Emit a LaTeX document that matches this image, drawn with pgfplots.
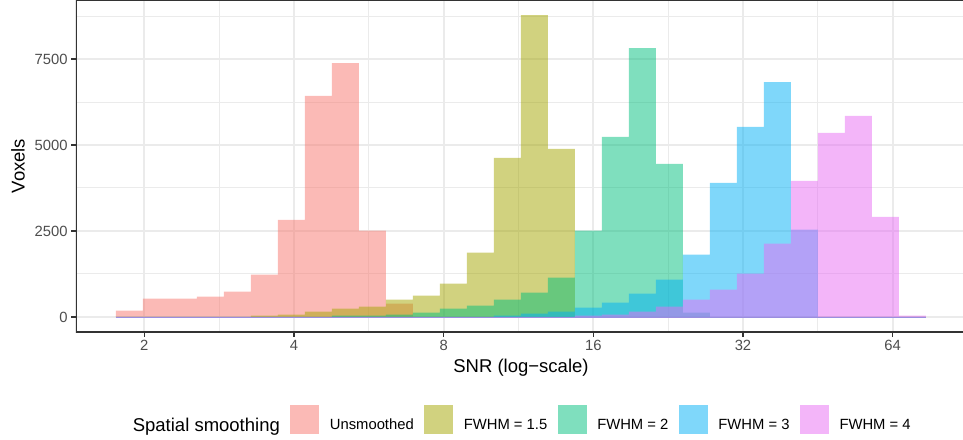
\documentclass[border=0pt]{standalone}
\usepackage{fontspec}
\setmainfont{Liberation Sans}
\usepackage{pgfplots}
\usepackage{pgfplotstable}
\pgfplotsset{compat=1.18}
\definecolor{pinkc}{HTML}{F8766D}
\definecolor{olivec}{HTML}{A3A500}
\definecolor{greenc}{HTML}{00BF7D}
\definecolor{bluec}{HTML}{00B0F6}
\definecolor{purplec}{HTML}{E76BF3}
\definecolor{grey92}{HTML}{EBEBEB}
\definecolor{grey20}{HTML}{333333}
\definecolor{grey30}{HTML}{4D4D4D}
\definecolor{basec}{HTML}{9A8EE0}
% edges on log2 scale; counts per bin (bin i from edge i to edge i+1)
\pgfplotstableread{
edge   pink  yel   grn   blu   pur
0.8109 183   0     0     0     0
0.9913 531   0     0     0     0
1.1717 531   0     0     0     0
1.3520 589   0     0     0     0
1.5324 735   0     0     0     0
1.7128 1228  38    0     0     0
1.8932 2825  67    0     0     0
2.0736 6426  154   0     0     0
2.2539 7384  241   38    0     0
2.4343 2506  299   38    0     0
2.6147 386   502   67    0     0
2.7951 0     618   125   0     0
2.9755 0     967   241   0     0
3.1558 0     1867  328   0     0
3.3362 0     4626  502   38    0
3.5166 0     8778  705   96    0
3.6970 0     4887  1141  154   0
3.8774 0     0     2506  270   38
4.0577 0     0     5235  415   67
4.2381 0     0     7819  676   154
4.4185 0     0     4451  1083  299
4.5989 0     0     125   1809  502
4.7793 0     0     0     3899  793
4.9596 0     0     0     5526  1257
5.1400 0     0     0     6832  2128
5.3204 0     0     0     2535  3958
5.5008 0     0     0     0     5351
5.6812 0     0     0     0     5845
5.8615 0     0     0     0     2912
6.0419 0     0     0     0     38
6.2223 0     0     0     0     0
}\histdata
\begin{document}
\begin{tikzpicture}
\pgfplotsset{
  mylegend/.style={legend image code/.code={\fill[##1,draw=none] (0pt,-9.2pt) rectangle (29pt,19.8pt);}},
}
\begin{axis}[
  name=ax,
  scale only axis,
  width=887pt, height=332pt,
  xmin=0.5437, xmax=6.470,
  ymin=-439, ymax=9217,
  xtick={1,2,3,4,5,6},
  xticklabels={2,4,8,16,32,64},
  minor xtick={1.5,2.5,3.5,4.5,5.5},
  ytick={0,2500,5000,7500},
  yticklabels={0,2500,5000,7500},
  minor ytick={1250,3750,6250,8750},
  grid=both,
  major grid style={draw=grey92, line width=1.8pt},
  minor grid style={draw=grey92, line width=1pt},
  tick pos=left,
  tick align=outside,
  major tick length=4.6pt,
  minor tick length=0pt,
  every tick/.style={draw=grey20, line width=1.4pt},
  axis line style={draw=none},
  ticklabel style={font=\fontsize{14.8}{17}\selectfont, text=grey30},
  xticklabel style={inner sep=0pt, yshift=-3.7pt},
  yticklabel style={inner sep=0pt, xshift=-3.7pt},
  xlabel={SNR (log−scale)},
  ylabel={Voxels},
  label style={font=\fontsize{18.5}{21}\selectfont, text=black},
  xlabel style={at={(axis description cs:0.5017,-0.1084)}, anchor=center, inner sep=0pt},
  ylabel style={at={(axis description cs:-0.0654,0.5)}, anchor=center, inner sep=0pt},
  legend style={
    at={(axis description cs:0.4966,-0.265)}, anchor=center,
    draw=none, fill=none, inner sep=0pt,
    legend columns=-1,
    nodes={inner sep=0pt, font=\fontsize{14.8}{17}\selectfont, text=black},
    /tikz/every odd column/.append style={column sep=10.5pt},
    /tikz/every even column/.append style={column sep=10.5pt},
  },
  legend cell align=left,
]
\addlegendimage{empty legend}
\addlegendentry[font=\fontsize{18.5}{21}\selectfont]{Spatial smoothing}
\addplot[ybar interval, fill=pinkc, fill opacity=0.5, draw=none, mylegend] table[x=edge,y=pink] {\histdata};
\addlegendentry{Unsmoothed}
\addplot[ybar interval, fill=olivec, fill opacity=0.5, draw=none, mylegend] table[x=edge,y=yel] {\histdata};
\addlegendentry{FWHM = 1.5}
\addplot[ybar interval, fill=greenc, fill opacity=0.5, draw=none, mylegend] table[x=edge,y=grn] {\histdata};
\addlegendentry{FWHM = 2}
\addplot[ybar interval, fill=bluec, fill opacity=0.5, draw=none, mylegend] table[x=edge,y=blu] {\histdata};
\addlegendentry{FWHM = 3}
\addplot[ybar interval, fill=purplec, fill opacity=0.5, draw=none, mylegend] table[x=edge,y=pur] {\histdata};
\addlegendentry{FWHM = 4}
\addplot[forget plot, draw=basec, line width=0.8pt] coordinates {(0.8109,0) (6.2223,0)};
\draw[grey20, line width=1.6pt] (rel axis cs:1,1) -- (rel axis cs:0,1) -- (rel axis cs:0,0) -- (rel axis cs:1,0);
\end{axis}
\pgfresetboundingbox
\path ([xshift=-76pt,yshift=-107pt]ax.south west) rectangle (ax.north east);
\end{tikzpicture}
\end{document}
